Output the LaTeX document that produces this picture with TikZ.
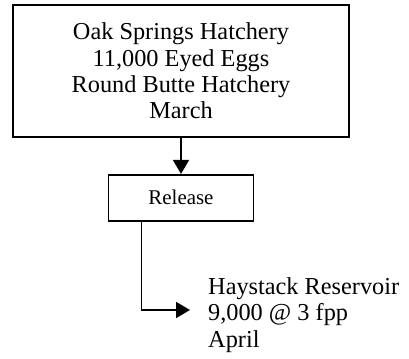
\documentclass[tikz,border=0pt]{standalone}
\usepackage{fontspec}
\setmainfont{Liberation Serif}
\usetikzlibrary{positioning,arrows.meta}

\begin{document}
\begin{tikzpicture}[x=1bp,y=1bp,
  box/.style={draw,line width=1.8bp,align=center,inner sep=0pt},
  link/.style={line width=1.8bp,-{Triangle[length=14bp,width=16bp]}}]
\useasboundingbox (0,0) rectangle (409,359);
\node(hatch)[box,minimum width=336bp,minimum height=132bp,font=\fontsize{24.4}{26.5}\selectfont] at (181,288)
{Oak Springs Hatchery\\11,000 Eyed Eggs\\Round Butte Hatchery\\March};
\node(rel)[box,minimum width=145bp,minimum height=46bp,font=\fontsize{21}{24}\selectfont,below=36bp of hatch]{Release};
\coordinate(tip) at (190,49);
\node(dest)[right=18bp of tip,align=left,inner sep=0pt,yshift=-5bp,font=\fontsize{24.4}{26.5}\selectfont]
{Haystack Reservoir\\9,000 @ 3 fpp\\April};

\draw[link] (hatch) -- (rel);
\draw[link] ([xshift=34bp]rel.south west) |- (tip);
\end{tikzpicture}
\end{document}
